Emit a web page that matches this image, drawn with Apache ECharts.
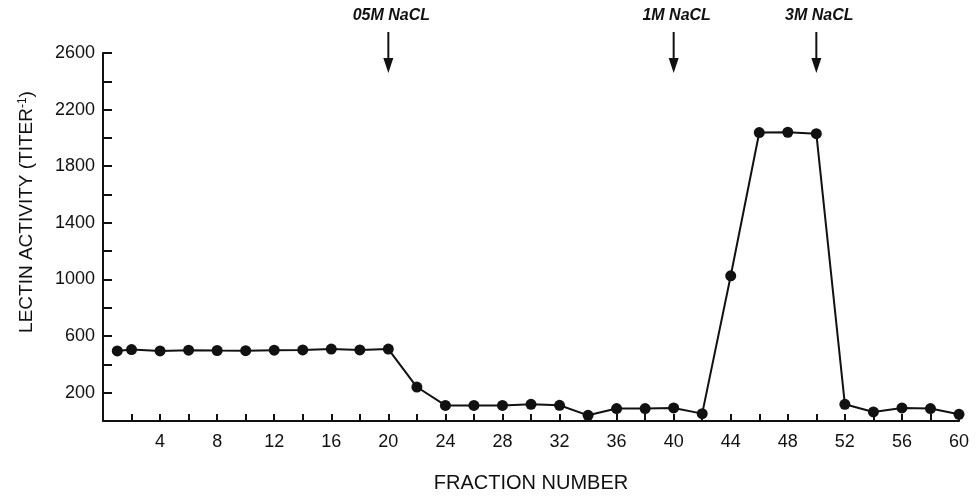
<!DOCTYPE html>
<html>
<head>
<meta charset="utf-8">
<script src="https://cdn.jsdelivr.net/npm/echarts@6/dist/echarts.min.js"></script>
<style>
html,body{margin:0;padding:0;background:#fff;}
#chart{width:976px;height:496px;}
</style>
</head>
<body>
<div id="chart"></div>
<script>
// Data
const fractions = [1, 2, 4, 6, 8, 10, 12, 14, 16, 18, 20, 22, 24, 26, 28, 30, 32, 34, 36, 38, 40, 42, 44, 46, 48, 50, 52, 54, 56, 58, 60];
const lectinActivity = [495, 505, 495, 500, 498, 497, 500, 502, 508, 502, 508, 240, 110, 110, 110, 118, 111, 40, 88, 88, 92, 52, 1026, 2038, 2040, 2030, 118, 64, 92, 88, 47];
const yTickLabels = [200, 600, 1000, 1400, 1800, 2200, 2600];
const xTickLabels = [4, 8, 12, 16, 20, 24, 28, 32, 36, 40, 44, 48, 52, 56, 60];
const arrowFractions = [20, 40, 50];
const arrowLabels = ['05M NaCL', '1M NaCL', '3M NaCL'];

const FONT = "'Liberation Sans', Arial, sans-serif";
const chart = echarts.init(document.getElementById('chart'), null, {renderer: 'canvas'});

const option = {
  animation: false,
  backgroundColor: '#ffffff',
  grid: {left: 103, right: 17, top: 53, bottom: 75, containLabel: false, outerBoundsMode: 'none'},
  xAxis: {
    type: 'value', min: 0, max: 60, interval: 2,
    name: 'FRACTION NUMBER', nameLocation: 'middle', nameGap: 52,
    nameTextStyle: {fontFamily: FONT, fontSize: 20, color: '#111'},
    axisLine: {show: true, lineStyle: {color: '#111', width: 2}},
    axisTick: {show: true, inside: true, length: 7, lineStyle: {color: '#111', width: 2}},
    axisLabel: {
      margin: 12, fontFamily: FONT, fontSize: 18, color: '#111',
      formatter: v => xTickLabels.indexOf(v) >= 0 ? String(v) : ''
    },
    splitLine: {show: false}
  },
  yAxis: {
    type: 'value', min: 0, max: 2600, interval: 200,
    name: '{a|LECTIN ACTIVITY (TITER}{s|-1}{a|)}', nameLocation: 'middle', nameGap: 66, nameRotate: 90,
    nameTextStyle: {
      fontFamily: FONT, fontSize: 19, color: '#111', padding: [0, 0, 0, 50],
      rich: {
        a: {fontFamily: FONT, fontSize: 19, color: '#111'},
        s: {fontFamily: FONT, fontSize: 12, color: '#111', verticalAlign: 'top', padding: [0, 0, 8, 0]}
      }
    },
    axisLine: {show: true, lineStyle: {color: '#111', width: 2}},
    axisTick: {show: true, inside: true, length: 9, lineStyle: {color: '#111', width: 2}},
    axisLabel: {
      margin: 8, fontFamily: FONT, fontSize: 18, color: '#111',
      formatter: v => yTickLabels.indexOf(v) >= 0 ? String(v) : ''
    },
    splitLine: {show: false}
  },
  series: [{
    type: 'line',
    data: fractions.map((f, i) => [f, lectinActivity[i]]),
    symbol: 'circle', symbolSize: 11,
    itemStyle: {color: '#111'},
    lineStyle: {color: '#111', width: 2},
    clip: false
  }]
};
chart.setOption(option);

// Annotation arrows positioned through the x axis scale
const graphics = [];
arrowFractions.forEach((f, i) => {
  const px = chart.convertToPixel({xAxisIndex: 0}, f);
  graphics.push({
    type: 'text', x: px + 3, y: 16,
    style: {text: arrowLabels[i], fontFamily: FONT, fontSize: 16, fontWeight: 'bold', fontStyle: 'italic',
            fill: '#111', align: 'center', verticalAlign: 'middle'}
  });
  graphics.push({
    type: 'line', shape: {x1: px, y1: 32, x2: px, y2: 62},
    style: {stroke: '#111', lineWidth: 2}
  });
  graphics.push({
    type: 'polygon', shape: {points: [[px - 5, 58], [px + 5, 58], [px, 73]]},
    style: {fill: '#111'}
  });
});
chart.setOption({graphic: graphics});
</script>
</body>
</html>
